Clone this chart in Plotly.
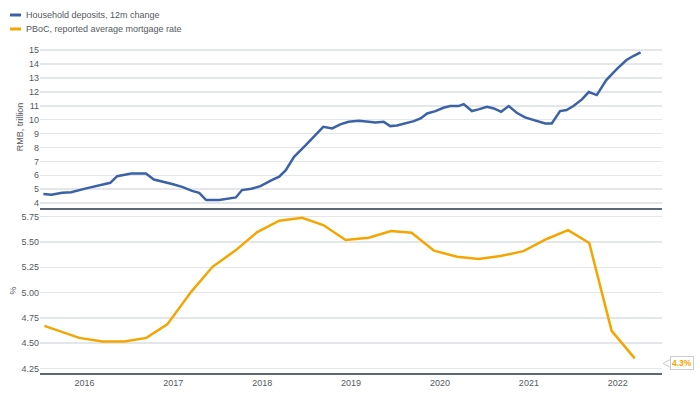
import plotly.graph_objects as go
from plotly.subplots import make_subplots

# ---- data ----
deposit_dates = ["2016-01-15","2016-02-17","2016-04-01","2016-05-08","2016-07-09","2016-08-19","2016-10-16",
    "2016-11-13","2017-01-10","2017-03-11","2017-04-13","2017-06-27","2017-08-07","2017-09-17","2017-10-16",
    "2017-11-14","2018-01-07","2018-03-16","2018-04-10","2018-05-19","2018-06-25","2018-08-10","2018-09-10",
    "2018-10-07","2018-11-10","2018-12-28","2019-02-07","2019-03-10","2019-04-16","2019-05-19","2019-06-22",
    "2019-08-03","2019-09-13","2019-10-10","2019-11-13","2019-12-10","2020-01-07","2020-02-11","2020-03-16",
    "2020-04-13","2020-05-10","2020-06-13","2020-07-16","2020-08-13","2020-09-16","2020-10-07","2020-11-10",
    "2020-12-07","2021-01-11","2021-02-08","2021-03-10","2021-04-10","2021-05-13","2021-06-16","2021-07-28",
    "2021-09-07","2021-10-04","2021-11-07","2021-12-04","2022-01-01","2022-02-05","2022-03-05","2022-04-07",
    "2022-05-16","2022-06-28","2022-08-07","2022-09-04","2022-10-04"]
deposit_values = [4.65,4.60,4.74,4.79,5.06,5.22,5.46,
    5.94,6.13,6.13,5.70,5.37,5.17,4.88,4.74,
    4.22,4.22,4.41,4.94,5.03,5.22,5.65,5.90,
    6.37,7.33,8.17,8.89,9.49,9.37,9.66,9.85,
    9.92,9.85,9.80,9.85,9.54,9.59,9.73,9.90,
    10.09,10.45,10.62,10.86,10.98,10.98,11.12,10.62,
    10.74,10.93,10.81,10.57,10.98,10.50,10.17,9.92,
    9.73,9.73,10.62,10.69,10.98,11.46,11.99,11.77,
    12.85,13.64,14.29,14.58,14.84]

rate_dates = ["2016-01-19","2016-06-10","2016-09-13","2016-12-13","2017-03-13","2017-06-07","2017-09-13",
    "2017-12-10","2018-03-16","2018-06-10","2018-09-10","2018-12-13","2019-03-10","2019-06-10","2019-09-13",
    "2019-12-13","2020-03-07","2020-06-07","2020-09-10","2020-12-07","2021-03-07","2021-06-10","2021-09-13",
    "2021-12-10","2022-03-07","2022-06-07","2022-09-10"]
rate_values = [4.672,4.553,4.518,4.518,4.553,4.686,5.008,
    5.255,5.42,5.595,5.71,5.74,5.668,5.52,5.542,
    5.608,5.592,5.414,5.355,5.332,5.361,5.41,5.53,
    5.618,5.49,4.622,4.35]

year_ticks = ["2016-07-02","2017-07-02","2018-07-02","2019-07-02","2020-07-02","2021-07-02","2022-07-02"]
year_labels = ["2016","2017","2018","2019","2020","2021","2022"]
deposit_ticks = list(range(4, 16))
rate_ticks = [4.25, 4.50, 4.75, 5.00, 5.25, 5.50, 5.75]
rate_tick_labels = ["4.25", "4.50", "4.75", "5.00", "5.25", "5.50", "5.75"]
last_rate_label = "4.3%"
last_rate_value = 4.3

series_names = ["Household deposits, 12m change", "PBoC, reported average mortgage rate"]

BLUE = "#3b62a6"
ORANGE = "#f5a500"
AXIS = "#5d6874"
GRID = "#e3e6ea"
TXT = "#555a60"
FONT = "Liberation Sans, Arial, sans-serif"

fig = make_subplots(rows=2, cols=1, shared_xaxes=True, vertical_spacing=0,
                    row_heights=[0.4954, 0.5046])

fig.add_trace(go.Scatter(x=deposit_dates, y=deposit_values, mode="lines", name=series_names[0],
                         line=dict(color=BLUE, width=2.5), showlegend=False), row=1, col=1)
fig.add_trace(go.Scatter(x=rate_dates, y=rate_values, mode="lines", name=series_names[1],
                         line=dict(color=ORANGE, width=2.5), showlegend=False), row=2, col=1)

xcommon = dict(range=["2016-01-01", "2022-12-31"], tickvals=year_ticks, ticktext=year_labels,
               showgrid=False, zeroline=False, showline=True, linecolor=AXIS, linewidth=2,
               ticks="", automargin=False, tickfont=dict(size=9, color=TXT, family=FONT))
fig.update_xaxes(**xcommon)
fig.update_xaxes(showticklabels=False, row=1, col=1)

fig.update_yaxes(range=[3.65, 15.3], tickvals=deposit_ticks, showgrid=True, gridcolor=GRID, gridwidth=1.5,
                 zeroline=False, showline=False, ticks="", automargin=False,
                 tickfont=dict(size=9, color=TXT, family=FONT),
                 title=dict(text="RMB, trillion", font=dict(size=9, color=TXT, family=FONT), standoff=3),
                 row=1, col=1)
fig.update_yaxes(range=[4.206, 5.836], tickvals=rate_ticks, ticktext=rate_tick_labels, showgrid=True,
                 gridcolor=GRID, gridwidth=1.5, zeroline=False, showline=False, ticks="", automargin=False,
                 tickfont=dict(size=9, color=TXT, family=FONT),
                 title=dict(text="%", font=dict(size=9, color=TXT, family=FONT), standoff=3),
                 row=2, col=1)

# custom legend (above the plot area, in the top-left corner of the figure)
legend_y = [1.0948, 1.0520]
legend_colors = [BLUE, ORANGE]
shapes = []
annotations = []
for name, col, ly in zip(series_names, legend_colors, legend_y):
    shapes.append(dict(type="line", xref="paper", yref="paper", x0=0, x1=11, y0=ly, y1=ly,
                       xsizemode="pixel", xanchor=-0.0482, line=dict(color=col, width=3)))
    annotations.append(dict(xref="paper", yref="paper", x=-0.0257, y=ly, xanchor="left", yanchor="middle",
                            text=name, showarrow=False, font=dict(size=9, color=TXT, family=FONT)))

# last value callout
annotations.append(dict(xref="paper", yref="y2", x=1, y=last_rate_value, xanchor="left", yanchor="middle",
                        xshift=8, text="<b>" + last_rate_label + "</b>", showarrow=False,
                        font=dict(size=8.5, color=ORANGE, family=FONT), bgcolor="white",
                        bordercolor="#c9ccd0", borderwidth=1, borderpad=1))
shapes.append(dict(type="path", xref="paper", yref="y2", xsizemode="pixel", ysizemode="pixel",
                   xanchor=1, yanchor=last_rate_value, path="M 8.5,-4 L 1,0 L 8.5,4",
                   line=dict(color="#c9ccd0", width=1)))

fig.update_layout(width=700, height=396, margin=dict(l=40, r=38, t=46, b=23, autoexpand=False),
                  paper_bgcolor="white", plot_bgcolor="white", showlegend=False, hovermode=False,
                  font=dict(family=FONT, color=TXT), shapes=shapes, annotations=annotations)

fig.write_html("out.html", config={"displayModeBar": False, "staticPlot": True},
               post_script="document.body.style.margin='0';document.body.style.overflow='hidden';")
